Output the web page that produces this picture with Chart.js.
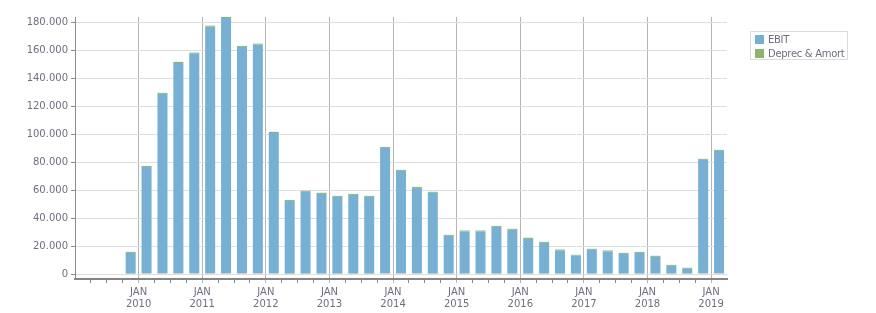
<!DOCTYPE html>
<html>
<head>
<meta charset="utf-8">
<script src="https://cdn.jsdelivr.net/npm/chart.js@4/dist/chart.umd.min.js"></script>
<style>
    body { margin: 0; background: #fff; }
    #wrap { position: relative; width: 876px; height: 313px; }
    #legend {
        position: absolute; left: 750px; top: 31px; width: 96px; height: 26px;
        border: 1px solid #dcdcdc; padding: 1px 0 0 0;
        font-family: "DejaVu Sans", sans-serif; font-size: 10px; letter-spacing: -0.3px; color: #6e6e80;
    }
    .item { height: 14px; line-height: 13px; white-space: nowrap; }
    .swatch { display: inline-block; width: 9px; height: 9px; margin: 0 4px 0 4px; vertical-align: -1px; }
</style>
</head>
<body>
<div id="wrap">
    <canvas id="chart"></canvas>
    <div id="legend"></div>
</div>
<script>
// quarters shown, EBIT and D&A per quarter
const quarters = [
    '2009-Q4',
    '2010-Q1', '2010-Q2', '2010-Q3', '2010-Q4',
    '2011-Q1', '2011-Q2', '2011-Q3', '2011-Q4',
    '2012-Q1', '2012-Q2', '2012-Q3', '2012-Q4',
    '2013-Q1', '2013-Q2', '2013-Q3', '2013-Q4',
    '2014-Q1', '2014-Q2', '2014-Q3', '2014-Q4',
    '2015-Q1', '2015-Q2', '2015-Q3', '2015-Q4',
    '2016-Q1', '2016-Q2', '2016-Q3', '2016-Q4',
    '2017-Q1', '2017-Q2', '2017-Q3', '2017-Q4',
    '2018-Q1', '2018-Q2', '2018-Q3', '2018-Q4',
    '2019-Q1'
];
const ebit = [
    15200,
    76700, 129000, 151100, 157800,
    177100, 183300, 162600, 164200,
    101000, 52400, 58900, 57400,
    55300, 56700, 55300, 90300,
    73900, 61700, 58200, 27400,
    30500, 30500, 33800, 31700,
    25200, 22400, 16900, 13300,
    17400, 16200, 14500, 15200,
    12400, 5900, 3800, 81800,
    88200
];
const deprec = [
    700,
    700, 700, 800, 700,
    700, 700, 700, 700,
    800, 700, 700, 800,
    700, 700, 700, 700,
    700, 700, 700, 700,
    700, 700, 700, 700,
    800, 700, 700, 500,
    700, 700, 700, 700,
    700, 700, 700, 700,
    700
];
const seriesNames = ['EBIT', 'Deprec & Amort'];
const seriesColors = ['#78b0d4', '#8ab56b'];
const yTicks = [0, 10000, 20000, 30000, 40000, 50000, 60000, 70000, 80000, 90000,
    100000, 110000, 120000, 130000, 140000, 150000, 160000, 170000, 180000];
const yearLabels = ['2010', '2011', '2012', '2013', '2014', '2015', '2016', '2017', '2018', '2019'];
const monthLabel = 'JAN';
const firstYear = 2009;
const yMin = -3500;
const yMax = 184000;

const labelColor = '#6e6e80';

// position of a quarter on the x axis (quarters since Jan 2009, centred)
function quarterPos(q) {
    const year = parseInt(q.slice(0, 4));
    const n = parseInt(q.slice(6));
    return (year - firstYear) * 4 + (n - 1) + 0.5;
}

function toPoints(values) {
    return values.map((v, i) => ({ x: quarterPos(quarters[i]), y: v }));
}

function formatThousands(v) {
    return String(v).replace(/\B(?=(\d{3})+(?!\d))/g, '.');
}

Chart.defaults.font.family = '"DejaVu Sans", sans-serif';
Chart.defaults.font.size = 10;
Chart.defaults.color = labelColor;

const ctx = document.getElementById('chart').getContext('2d');
new Chart(ctx, {
    type: 'bar',
    data: {
        datasets: [
            { label: seriesNames[0], data: toPoints(ebit), backgroundColor: seriesColors[0] },
            { label: seriesNames[1], data: toPoints(deprec), backgroundColor: seriesColors[1] }
        ]
    },
    options: {
        responsive: true,
        maintainAspectRatio: false,
        animation: false,
        barPercentage: 0.63,
        categoryPercentage: 1,
        layout: { padding: { top: 17, right: 149, left: 0, bottom: 0 } },
        plugins: {
            legend: { display: false },
            tooltip: { enabled: false }
        },
        scales: {
            x: {
                type: 'linear',
                stacked: true,
                offset: false,
                min: 0,
                max: 41,
                afterFit: (s) => { s.height = 34; },
                ticks: {
                    stepSize: 1,
                    autoSkip: false,
                    maxRotation: 0,
                    padding: 3,
                    color: labelColor,
                    callback: (v) => {
                        if (v > 0 && v % 4 === 0) return [monthLabel, yearLabels[v / 4 - 1]];
                        return '';
                    }
                },
                grid: {
                    offset: false,
                    color: (c) => (c.tick && c.tick.value > 0 && c.tick.value % 4 === 0 && c.tick.value < 41) ? '#b4b4b4' : 'rgba(0,0,0,0)',
                    tickColor: (c) => {
                        if (!c.tick || c.tick.value <= 0 || c.tick.value >= 41) return 'rgba(0,0,0,0)';
                        return c.tick.value % 4 === 0 ? '#b4b4b4' : '#8a8a8a';
                    },
                    tickLength: 4,
                    lineWidth: 1
                },
                border: { color: '#858585', width: 2 }
            },
            y: {
                stacked: true,
                min: yMin,
                max: yMax,
                afterFit: (s) => { s.width = 75; },
                afterBuildTicks: (s) => {
                    s.ticks = yTicks.map(v => ({ value: v })).concat([{ value: yMax }]);
                },
                ticks: {
                    padding: 3,
                    color: labelColor,
                    callback: (v) => yTicks.includes(v) ? formatThousands(v) : ''
                },
                grid: {
                    color: '#dedede',
                    tickColor: (c) => (c.tick && yTicks.includes(c.tick.value)) ? '#8a8a8a' : 'rgba(0,0,0,0)',
                    tickLength: 4,
                    lineWidth: 1
                },
                border: { color: '#8a8a8a', width: 1 }
            }
        }
    }
});

// legend box on the right
const legend = document.getElementById('legend');
seriesNames.forEach((name, i) => {
    const row = document.createElement('div');
    row.className = 'item';
    const sw = document.createElement('span');
    sw.className = 'swatch';
    sw.style.background = seriesColors[i];
    row.appendChild(sw);
    row.appendChild(document.createTextNode(name));
    legend.appendChild(row);
});
</script>
</body>
</html>
